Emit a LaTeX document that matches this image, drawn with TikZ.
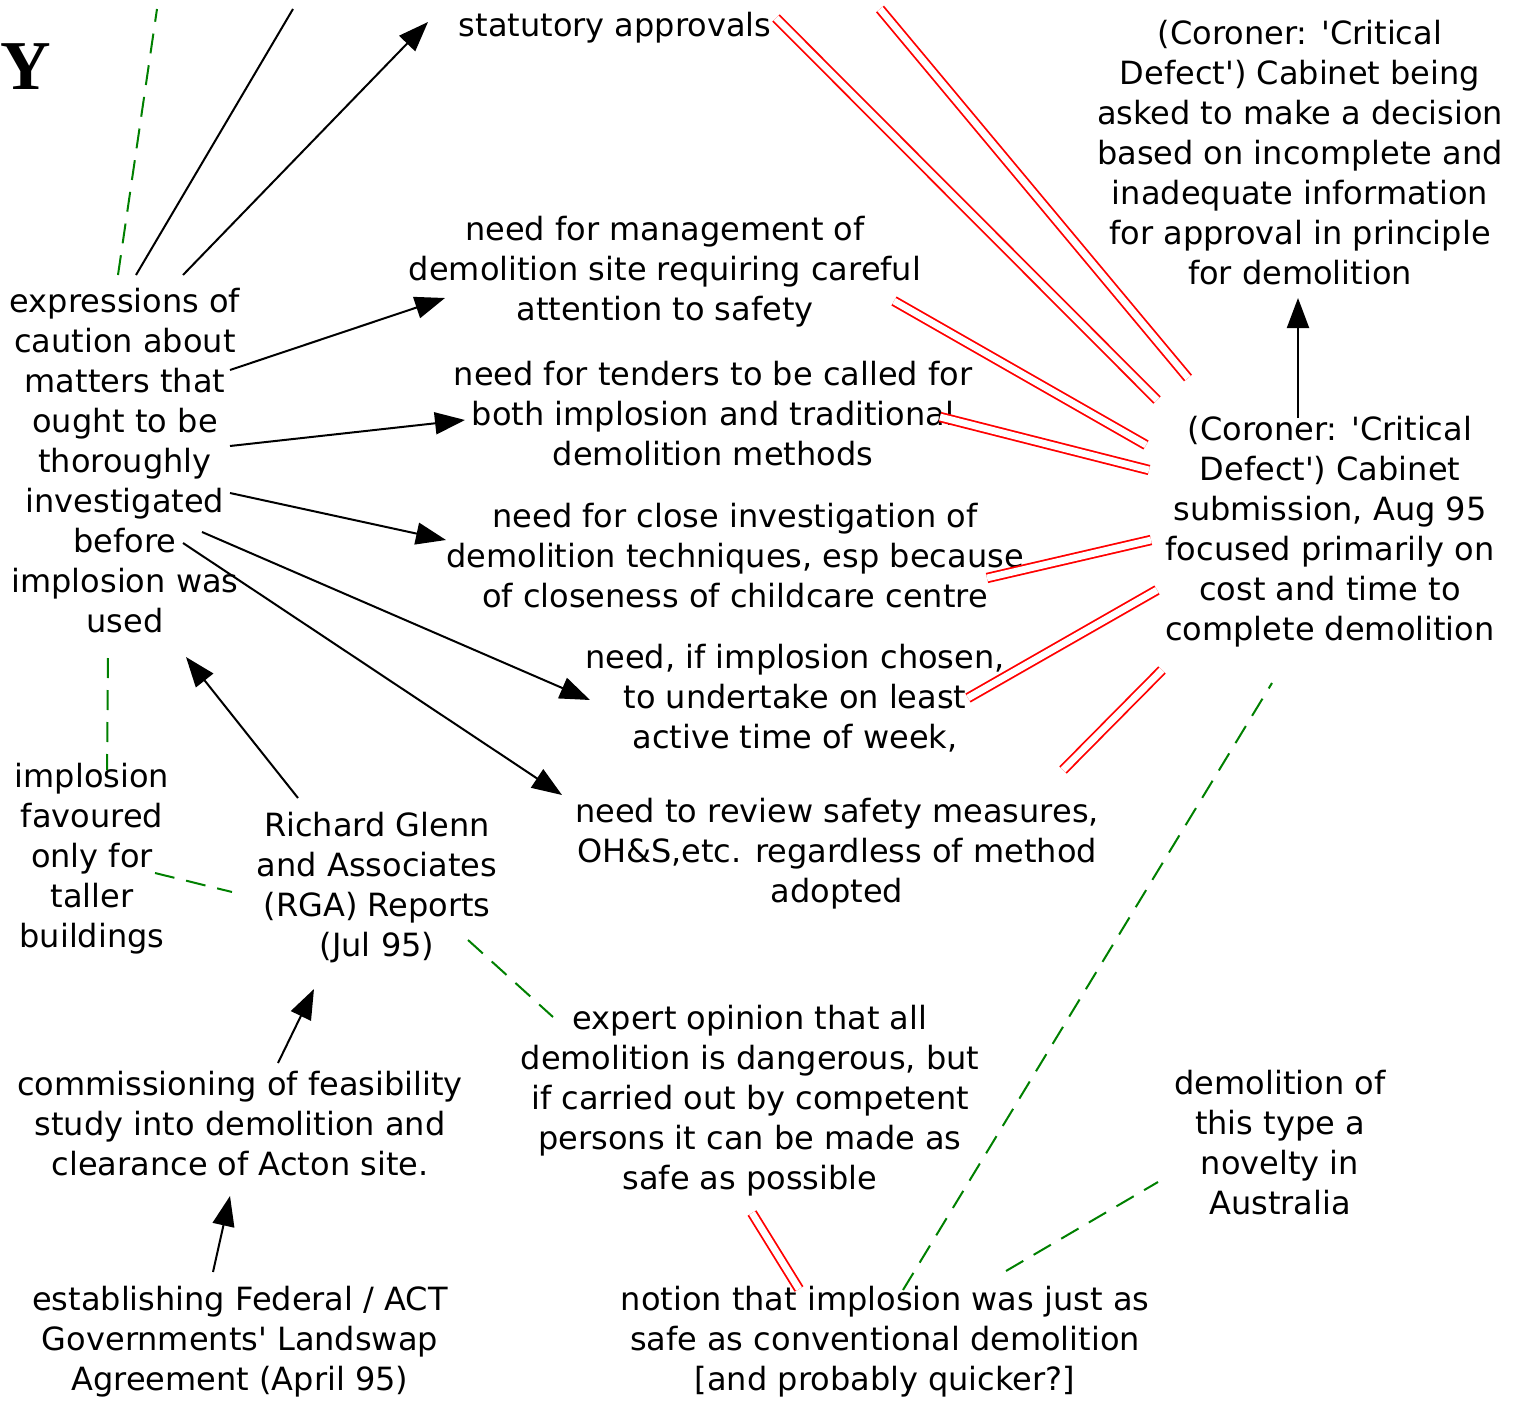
\documentclass[tikz,border=0pt]{standalone}
\usepackage{fontspec}
\setmainfont{DejaVu Sans}
\newfontfamily\yfont{Liberation Serif}
\usetikzlibrary{arrows.meta,calc}
\definecolor{linkred}{RGB}{255,0,0}
\definecolor{linkgreen}{RGB}{0,128,0}
\begin{document}
\begin{tikzpicture}[x=0.5pt,y=-0.5pt,
  txt/.style={align=center,inner sep=0pt,font=\fontsize{16}{20}\selectfont},
  arr/.style={draw=black,line width=1pt,-{Triangle[length=15pt,width=11pt]}},
  plain/.style={draw=black,line width=1pt},
  gdash/.style={draw=linkgreen,line width=1pt,dash pattern=on 10pt off 6pt},
  rdouble/.style={draw=linkred,line width=0.9pt,double=white,double distance=3.4pt}]
\useasboundingbox (0,0) rectangle (1521,1402);

% concepts
\node[font=\yfont\bfseries\fontsize{35}{35}\selectfont,inner sep=0pt] (Y) at (26,67) {Y};
\node[txt] (stat) at (615,28) {statutory approvals};
\node[txt] (crit) at (1300,153) {(Coroner: \textquotesingle Critical\\Defect\textquotesingle) Cabinet being\\asked to make a decision\\based on incomplete and\\inadequate information\\for approval in principle\\for demolition};
\node[txt] (mgmt) at (665,272) {need for management of\\demolition site requiring careful\\attention to safety};
\node[txt] (tend) at (713,414) {need for tenders to be called for\\both implosion and traditional\\demolition methods};
\node[txt] (inv) at (735,556) {need for close investigation of\\demolition techniques, esp because\\of closeness of childcare centre};
\node[txt] (week) at (795,698) {need, if implosion chosen,\\to undertake on least\\active time of week,};
\node[txt] (rev) at (837,854) {need to review safety measures,\\OH\&S,etc. regardless of method\\adopted};
\node[txt] (expr) at (125,461) {expressions of\\caution about\\matters that\\ought to be\\thoroughly\\investigated\\before\\implosion was\\used};
\node[txt] (sub) at (1330,532) {(Coroner: \textquotesingle Critical\\Defect\textquotesingle) Cabinet\\submission, Aug 95\\focused primarily on\\cost and time to\\complete demolition};
\node[txt] (fav) at (92,859) {implosion\\favoured\\only for\\taller\\buildings};
\node[txt] (rga) at (377,888) {Richard Glenn\\and Associates\\(RGA) Reports\\(Jul 95)};
\node[txt] (comm) at (240,1124) {commissioning of feasibility\\study into demolition and\\clearance of Acton site.};
\node[txt] (land) at (240,1342) {establishing Federal / ACT\\Governments\textquotesingle{} Landswap\\Agreement (April 95)};
\node[txt] (exp) at (750,1101) {expert opinion that all\\demolition is dangerous, but\\if carried out by competent\\persons it can be made as\\safe as possible};
\node[txt] (nov) at (1280,1143) {demolition of\\this type a\\novelty in\\Australia};
\node[txt] (notion) at (885,1342) {notion that implosion was just as\\safe as conventional demolition\\{[and probably quicker?]}};

% links leaving the top edge
\coordinate (offA) at (157,9);
\coordinate (offB) at (293,9);
\coordinate (offC) at (880,9);

% links from the caution concept
\draw[gdash] ($(expr)+(-7,-186)$) -- (offA);
\draw[plain] ($(expr)+(11,-186)$) -- (offB);
\draw[arr] ($(expr)+(58,-186)$) -- ($(stat)+(-187,-6)$);
\draw[arr] ($(expr)+(105,-91)$) -- ($(mgmt)+(-220,26)$);
\draw[arr] ($(expr)+(105,-15)$) -- ($(tend)+(-248,6)$);
\draw[arr] ($(expr)+(105,32)$) -- ($(inv)+(-289,-16)$);
\draw[arr] ($(expr)+(77,71)$) -- ($(week)+(-205,2)$);
\draw[arr] ($(expr)+(58,82)$) -- ($(rev)+(-275,-59)$);

% left-hand chain
\draw[arr] ($(rga)+(-79,-90)$) -- ($(expr)+(61,196)$);
\draw[gdash] ($(expr)+(-17,197)$) -- ($(fav)+(15,-89)$);
\draw[gdash] ($(fav)+(63,14)$) -- ($(rga)+(-145,4)$);
\draw[arr] ($(comm)+(38,-61)$) -- ($(rga)+(-63,101)$);
\draw[arr] ($(land)+(-27,-70)$) -- ($(comm)+(-10,72)$);
\draw[gdash] ($(rga)+(91,52)$) -- ($(exp)+(-197,-84)$);

% lower right
\draw[rdouble] ($(exp)+(2,112)$) -- ($(notion)+(-86,-53)$);
\draw[gdash] ($(notion)+(18,-52)$) -- ($(sub)+(-58,151)$);
\draw[gdash] ($(notion)+(121,-71)$) -- ($(nov)+(-122,39)$);

% cabinet submission
\draw[arr] ($(sub)+(-32,-114)$) -- ($(crit)+(-2,145)$);
\draw[rdouble] ($(stat)+(161,-10)$) -- ($(sub)+(-173,-132)$);
\draw[rdouble] (offC) -- ($(sub)+(-142,-154)$);
\draw[rdouble] ($(mgmt)+(229,29)$) -- ($(sub)+(-184,-87)$);
\draw[rdouble] ($(tend)+(227,3)$) -- ($(sub)+(-181,-62)$);
\draw[rdouble] ($(inv)+(252,22)$) -- ($(sub)+(-179,8)$);
\draw[rdouble] ($(week)+(173,0)$) -- ($(sub)+(-173,58)$);
\draw[rdouble] ($(rev)+(226,-84)$) -- ($(sub)+(-168,138)$);
\end{tikzpicture}
\end{document}
